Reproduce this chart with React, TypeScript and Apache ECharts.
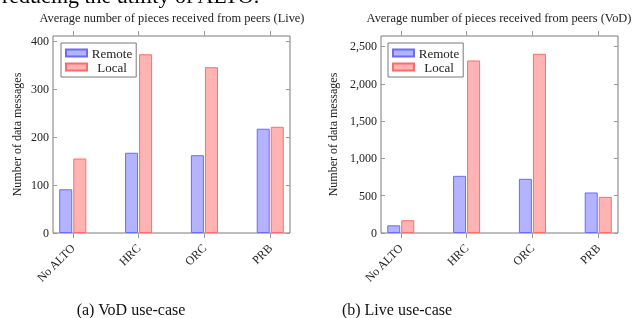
import React, { useEffect, useRef } from "react";
import * as echarts from "echarts";

const categories = ["No ALTO", "HRC", "ORC", "PRB"];
const liveRemote = [91, 167, 162, 217];
const liveLocal = [155, 372, 345, 221];
const vodRemote = [103, 766, 726, 543];
const vodLocal = [171, 2312, 2402, 484];
const liveTicks = [0, 100, 200, 300, 400];
const vodTicks = [0, 500, 1000, 1500, 2000, 2500];
const catIdx = [0, 1, 2, 3];

const FONT = "'Liberation Serif', 'DejaVu Serif', serif";
const FRAME = "#7a7a7a";
const TICK = "#9a9a9a";
const TXT = "#222";

const fmt = (v: number) => v.toLocaleString("en-US");

function xAxes(gridIndex: number) {
  return [
    {
      type: "value",
      gridIndex,
      position: "bottom",
      min: -0.3,
      max: 3.3,
      splitLine: { show: false },
      axisLine: { show: false, onZero: false },
      axisTick: { show: true, inside: false, length: 5, customValues: catIdx, lineStyle: { color: TICK } },
      axisLabel: {
        show: true,
        customValues: catIdx,
        rotate: 45,
        margin: 13,
        fontFamily: FONT,
        fontSize: 12,
        color: TXT,
        formatter: (v: number) => categories[Math.round(v)] ?? "",
      },
    },
    {
      type: "value",
      gridIndex,
      position: "top",
      min: -0.3,
      max: 3.3,
      splitLine: { show: false },
      axisLine: { show: false, onZero: false },
      axisTick: { show: true, inside: false, length: 5, customValues: catIdx, lineStyle: { color: TICK } },
      axisLabel: { show: false },
    },
  ];
}

function yAxes(gridIndex: number, max: number, ticks: number[]) {
  return [
    {
      type: "value",
      gridIndex,
      position: "left",
      min: 0,
      max,
      splitLine: { show: false },
      axisLine: { show: false, onZero: false },
      axisTick: { show: true, inside: true, length: 4, customValues: ticks, lineStyle: { color: TICK } },
      axisLabel: {
        show: true,
        customValues: ticks,
        margin: 4,
        fontFamily: FONT,
        fontSize: 12,
        color: TXT,
        formatter: (v: number) => fmt(v),
      },
      name: "Number of data messages",
      nameLocation: "middle",
      nameGap: gridIndex === 0 ? 30 : 42,
      nameTextStyle: { fontFamily: FONT, fontSize: 12, color: TXT },
    },
    {
      type: "value",
      gridIndex,
      position: "right",
      min: 0,
      max,
      splitLine: { show: false },
      axisLine: { show: false, onZero: false },
      axisTick: { show: true, inside: true, length: 4, customValues: ticks, lineStyle: { color: TICK } },
      axisLabel: { show: false },
    },
  ];
}

const remoteStyle = { color: "#b3b3ff", borderColor: "#6b6bff", borderWidth: 1 };
const localStyle = { color: "#ffb3b3", borderColor: "#ff6b6b", borderWidth: 1 };

function barSeries(name: string, vals: number[], axisBase: number, style: any) {
  return {
    type: "bar",
    name,
    xAxisIndex: axisBase,
    yAxisIndex: axisBase,
    data: catIdx.map((i) => [i, vals[i]]),
    barWidth: 13,
    barGap: "8%",
    itemStyle: style,
  };
}

function legend(left: number) {
  return {
    left,
    top: 43,
    orient: "vertical",
    itemWidth: 21,
    itemHeight: 7,
    itemGap: 0,
    padding: [3, 4, 3, 4],
    borderColor: FRAME,
    borderWidth: 1,
    backgroundColor: "#fff",
    data: [
      { name: "Remote", icon: "rect" },
      { name: "Local", icon: "rect" },
    ],
    formatter: (name: string) => `{c|${name}}`,
    textStyle: {
      fontFamily: FONT,
      fontSize: 13,
      lineHeight: 14,
      color: TXT,
      rich: { c: { width: 40, align: "center", fontFamily: FONT, fontSize: 13, lineHeight: 14, color: TXT } },
    },
  };
}

function label(text: string, x: number, y: number, size: number, fill: string, va: string) {
  return {
    type: "text",
    x,
    y,
    style: { text, font: `${size}px ${FONT}`, fill, align: x < 10 ? "left" : "center", verticalAlign: va },
  };
}

export default function App() {
  const ref = useRef<HTMLDivElement>(null);
  useEffect(() => {
    if (!ref.current) return;
    const chart = echarts.init(ref.current, null, { renderer: "svg" });
    chart.setOption({
      animation: false,
      grid: [
        { left: 53, top: 36, width: 237, height: 197, show: true, borderColor: FRAME, borderWidth: 1, backgroundColor: "transparent" },
        { left: 381, top: 36, width: 237, height: 197, show: true, borderColor: FRAME, borderWidth: 1, backgroundColor: "transparent" },
      ],
      xAxis: [...xAxes(0), ...xAxes(1)],
      yAxis: [...yAxes(0, 410, liveTicks), ...yAxes(1, 2640, vodTicks)],
      legend: [legend(61), legend(388)],
      series: [
        barSeries("Remote", liveRemote, 0, remoteStyle),
        barSeries("Local", liveLocal, 0, localStyle),
        barSeries("Remote", vodRemote, 2, remoteStyle),
        barSeries("Local", vodLocal, 2, localStyle),
      ],
      graphic: [
        label("reducing the utility of ALTO.", 2, 6, 22, "#000", "bottom"),
        label("Average number of pieces received from peers (Live)", 172, 18, 12.4, TXT, "middle"),
        label("Average number of pieces received from peers (VoD)", 499, 18, 12.4, TXT, "middle"),
        label("(a) VoD use-case", 131, 309, 16, "#111", "middle"),
        label("(b) Live use-case", 397, 309, 16, "#111", "middle"),
      ],
    });
    return () => chart.dispose();
  }, []);
  return <div ref={ref} style={{ position: "fixed", left: 0, top: 0, width: 635, height: 318 }} />;
}
